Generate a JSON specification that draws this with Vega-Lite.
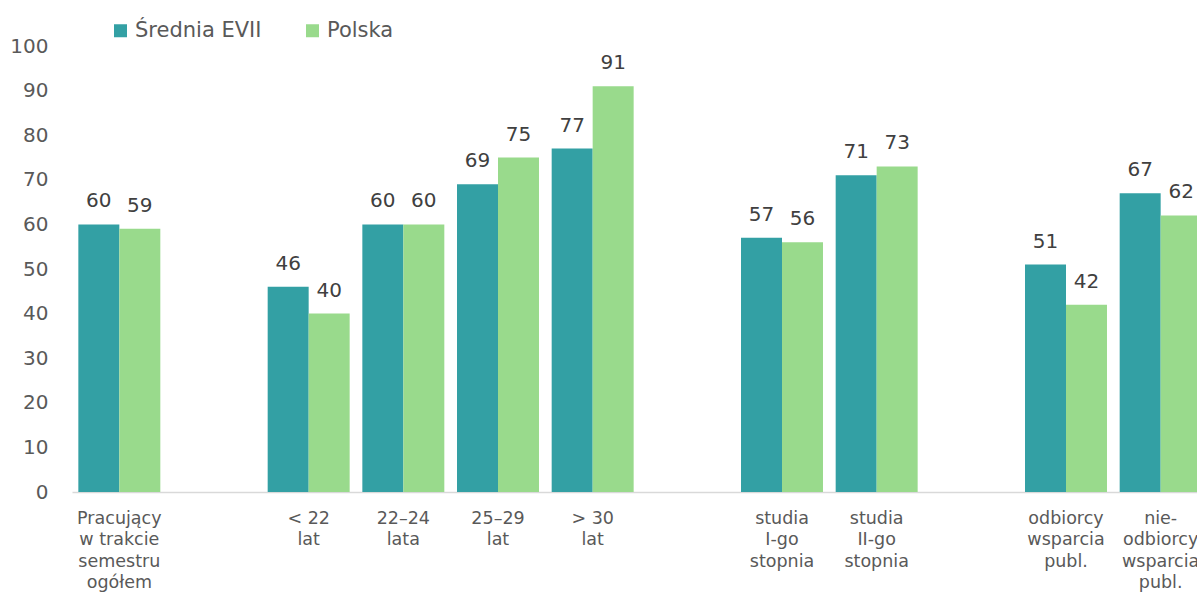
{
  "$schema": "https://vega.github.io/schema/vega-lite/v6.json",
  "width": 1125,
  "height": 446,
  "autosize": {"type": "none"},
  "padding": {"left": 72, "top": 46, "right": 0, "bottom": 102},
  "background": "white",
  "config": {
    "view": {"stroke": null},
    "font": "DejaVu Sans"
  },
  "data": {
    "values": [
      {"cat": "Pracujący|w trakcie|semestru|ogółem", "series": "Średnia EVII", "value": 60},
      {"cat": "Pracujący|w trakcie|semestru|ogółem", "series": "Polska", "value": 59},
      {"cat": "< 22|lat", "series": "Średnia EVII", "value": 46},
      {"cat": "< 22|lat", "series": "Polska", "value": 40},
      {"cat": "22–24|lata", "series": "Średnia EVII", "value": 60},
      {"cat": "22–24|lata", "series": "Polska", "value": 60},
      {"cat": "25–29|lat", "series": "Średnia EVII", "value": 69},
      {"cat": "25–29|lat", "series": "Polska", "value": 75},
      {"cat": "> 30|lat", "series": "Średnia EVII", "value": 77},
      {"cat": "> 30|lat", "series": "Polska", "value": 91},
      {"cat": "studia|I-go|stopnia", "series": "Średnia EVII", "value": 57},
      {"cat": "studia|I-go|stopnia", "series": "Polska", "value": 56},
      {"cat": "studia|II-go|stopnia", "series": "Średnia EVII", "value": 71},
      {"cat": "studia|II-go|stopnia", "series": "Polska", "value": 73},
      {"cat": "odbiorcy|wsparcia|publ.", "series": "Średnia EVII", "value": 51},
      {"cat": "odbiorcy|wsparcia|publ.", "series": "Polska", "value": 42},
      {"cat": "nie-|odbiorcy|wsparcia|publ.", "series": "Średnia EVII", "value": 67},
      {"cat": "nie-|odbiorcy|wsparcia|publ.", "series": "Polska", "value": 62}
    ]
  },
  "encoding": {
    "x": {
      "field": "cat",
      "type": "nominal",
      "scale": {
        "domain": ["Pracujący|w trakcie|semestru|ogółem", "gap1", "< 22|lat", "22–24|lata", "25–29|lat", "> 30|lat", "gap2", "studia|I-go|stopnia", "studia|II-go|stopnia", "gap3", "odbiorcy|wsparcia|publ.", "nie-|odbiorcy|wsparcia|publ."],
        "range": [0, 1136],
        "paddingInner": 0.134,
        "paddingOuter": 0.067
      },
      "axis": {
        "title": null,
        "labelAngle": 0,
        "labelExpr": "indexof(datum.value, 'gap') == 0 ? '' : split(datum.value, '|')",
        "labelFontSize": 17.5,
        "labelLineHeight": 21.5,
        "labelColor": "#595959",
        "labelPadding": 17,
        "labelLimit": 300,
        "labelOverlap": false,
        "ticks": false,
        "domainColor": "#d9d9d9",
        "domainWidth": 1.5,
        "grid": false
      }
    },
    "xOffset": {
      "field": "series",
      "type": "nominal",
      "scale": {"domain": ["Średnia EVII", "Polska"], "paddingInner": 0, "paddingOuter": 0}
    },
    "y": {
      "field": "value",
      "type": "quantitative",
      "scale": {"domain": [0, 100]},
      "axis": {
        "title": null,
        "values": [0, 10, 20, 30, 40, 50, 60, 70, 80, 90, 100],
        "labelFontSize": 20,
        "labelColor": "#595959",
        "labelPadding": 24,
        "labelOverlap": false,
        "ticks": false,
        "domain": false,
        "grid": false
      }
    }
  },
  "layer": [
    {
      "mark": {"type": "bar"},
      "encoding": {
        "color": {
          "field": "series",
          "type": "nominal",
          "scale": {"domain": ["Średnia EVII", "Polska"], "range": ["#33A0A4", "#99DA8C"]},
          "legend": {
            "title": null,
            "orient": "none",
            "direction": "horizontal",
            "legendX": 38,
            "legendY": -26,
            "symbolType": "square",
            "symbolSize": 169,
            "symbolStrokeWidth": 0,
            "labelFontSize": 21,
            "labelColor": "#595959",
            "labelOffset": 4,
            "columnPadding": 40
          }
        }
      }
    },
    {
      "mark": {"type": "text", "baseline": "bottom", "dy": -13, "fontSize": 20, "color": "#404040"},
      "encoding": {
        "text": {"field": "value", "type": "quantitative"}
      }
    }
  ]
}
